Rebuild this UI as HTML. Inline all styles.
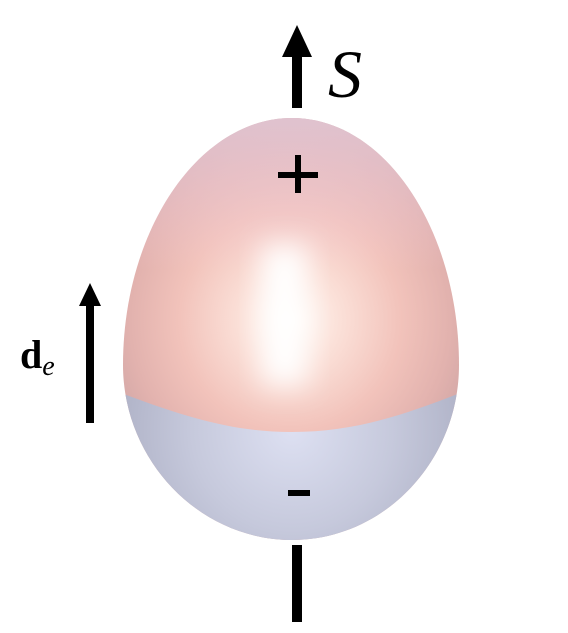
<!DOCTYPE html>
<html><head><meta charset="utf-8"><style>
html,body{margin:0;padding:0;background:#fff;}
svg{display:block;}
</style></head><body>
<svg width="568" height="633" viewBox="0 0 568 633">
<defs>
<clipPath id="egg"><path d="M292,118 C385,118 459,230 459,365 C459,460 385,540 292,540 C199,540 123,460 123,365 C123,230 199,118 292,118 Z"/></clipPath>
<radialGradient id="pinkG" cx="290" cy="320" r="200" gradientUnits="userSpaceOnUse">
<stop offset="0" stop-color="#fffaf5"/>
<stop offset="0.25" stop-color="#fbe0d8"/>
<stop offset="0.55" stop-color="#f2c3bb"/>
<stop offset="0.8" stop-color="#e2b2ae"/>
<stop offset="1" stop-color="#cea4a4"/>
</radialGradient>
<linearGradient id="topG" x1="0" y1="118" x2="0" y2="270" gradientUnits="userSpaceOnUse">
<stop offset="0" stop-color="#e2c6d4" stop-opacity="0.9"/>
<stop offset="1" stop-color="#f8d0dc" stop-opacity="0"/>
</linearGradient>
<radialGradient id="blueG" cx="292" cy="430" r="200" gradientUnits="userSpaceOnUse">
<stop offset="0" stop-color="#dde0f2"/>
<stop offset="0.5" stop-color="#c6c9dc"/>
<stop offset="1" stop-color="#a8abc0"/>
</radialGradient>
<filter id="blur" x="-50%" y="-50%" width="200%" height="200%"><feGaussianBlur stdDeviation="14"/></filter>
</defs>
<g clip-path="url(#egg)">
<rect x="100" y="100" width="380" height="450" fill="url(#pinkG)"/>
<rect x="100" y="100" width="380" height="170" fill="url(#topG)"/>
<rect x="262" y="245" width="45" height="140" fill="#ffffff" filter="url(#blur)"/>
<path d="M100,385 C180,416 230,432 292,432 C354,432 404,416 480,385 L480,550 L100,550 Z" fill="url(#blueG)"/>
</g>
<g>
<rect x="292" y="55" width="10" height="53" fill="#000"/>
<polygon points="297,25 282,57 312,57" fill="#000"/>
<rect x="292" y="545" width="10" height="77" fill="#000"/>
</g>
<text x="328" y="97" font-family="'Liberation Serif',serif" font-style="italic" font-size="68" fill="#000">S</text>
<g><rect x="278" y="172" width="40" height="6" fill="#000"/><rect x="295" y="155" width="6" height="38" fill="#000"/></g>
<rect x="288" y="490" width="22" height="6" fill="#000"/>
<g>
<rect x="86" y="303" width="8" height="120" fill="#000"/>
<polygon points="90,283 79,306 101,306" fill="#000"/>
</g>
<text x="20" y="368" font-family="'Liberation Serif',serif" font-weight="bold" font-size="40" fill="#000">d<tspan font-weight="normal" font-style="italic" font-size="28" dy="7">e</tspan></text>
</svg>
</body></html>
